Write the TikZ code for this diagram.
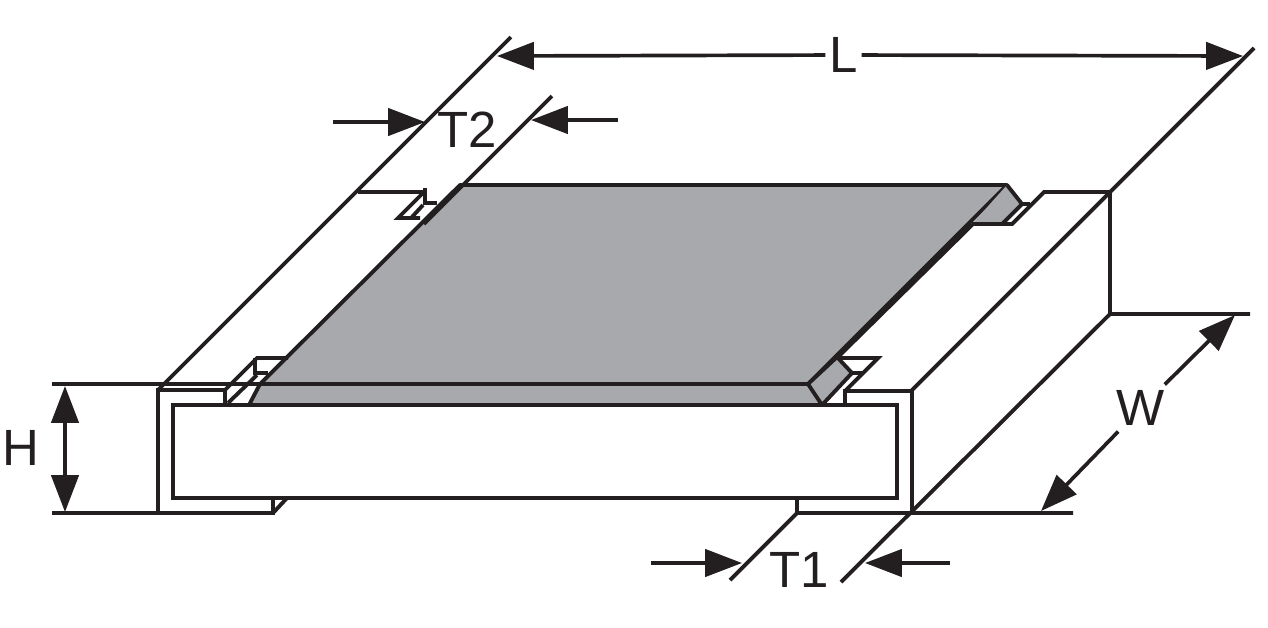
\documentclass[tikz,border=0pt]{standalone}
\usepackage{fontspec}
\setmainfont{Liberation Sans}
\usetikzlibrary{arrows.meta}
\definecolor{inkblack}{HTML}{231F20}
\definecolor{chipgray}{HTML}{A7A9AC}
\begin{document}
\begin{tikzpicture}[
    x=0.02cm, y=-0.02cm,
    outline/.style={draw=inkblack, line width=2.2pt, line join=miter},
    topface/.style={fill=chipgray, draw=inkblack, line width=2.2pt, line join=round},
    dimline/.style={draw=inkblack, line width=2.1pt, -{Triangle[length=21pt,width=15.5pt,sep=0pt]}},
    dimlabel/.style={text=inkblack, font=\fontsize{29}{32}\selectfont, inner sep=2.3pt, outer sep=0pt}
]
\useasboundingbox (0,0) rectangle (1268,627);

\fill[chipgray] (260,384) -- (808,384) -- (822,405) -- (249,405) -- cycle;
\draw[topface] (460,185) -- (1007,185) -- (808,384) -- (260,384) -- cycle;
\draw[topface] (1007,185) -- (1022,204) -- (1002,224) -- (972,224);
\draw[topface] (837,357) -- (852,373) -- (822,405) -- (808,384) -- cycle;
\draw[outline] (260,384) -- (249,405);
\draw[outline, line width=3pt] (972,224) -- (837,357);

\draw[outline] (173,405) rectangle (897,498);

\draw[outline] (225,405) -- (225,390) -- (158,390) -- (158,513) -- (273,513) -- (273,498);
\draw[outline] (273,513) -- (287,498);
\draw[outline] (845,405) -- (845,391) -- (912,391) -- (912,513);
\draw[outline] (797,498) -- (797,513);

\draw[outline] (225,390) -- (257,358) -- (288,358);
\draw[outline] (255,358) -- (255,373) -- (268,373);
\draw[outline] (257,375) -- (228,403);
\draw[outline] (840,358) -- (878,358) -- (845,391);
\draw[outline] (852,373) -- (862,373);

\draw[outline] (358,192) -- (425,192);
\draw[outline] (425,188) -- (425,203) -- (437,203);
\draw[outline] (423,193) -- (398,218) -- (420,218);
\draw[outline] (423,205) -- (412,217);
\draw[outline] (1002,224) -- (1012,224) -- (1044,192) -- (1110,192) -- (1110,314) -- (1250,314);
\draw[outline] (1022,204) -- (1030,204);

\draw[outline] (52,384) -- (262,384);
\draw[outline] (52,513) -- (158,513);
\draw[outline] (730,580) -- (797,513) -- (1073,513);
\draw[outline] (841,582) -- (1110,314);
\draw[outline] (158,390) -- (511,37);
\draw[outline] (912,390) -- (1254,48);
\draw[outline] (552,96) -- (424,224);

\node (lblL) at (843.5,55) [dimlabel] {L};
\node (lblWidth) at (1141,408) [dimlabel, inner sep=3.4pt] {W};
\node (lblHeight) at (21,448) [dimlabel] {H};
\node (lblTtwo) at (467,130) [dimlabel] {T2};
\node (lblTone) at (799,570) [dimlabel] {T1};

\coordinate (Lleft) at (497,56);
\coordinate (Lright) at (1243,56);
\coordinate (Wup) at (1235,315);
\coordinate (Wdown) at (1041,511);
\coordinate (Htop) at (65,386);
\coordinate (Hbot) at (65,512);
\coordinate (TtwoA) at (333,122);
\coordinate (TtwoB) at (425,122);
\coordinate (TtwoC) at (618,120);
\coordinate (TtwoD) at (531,120);
\coordinate (ToneA) at (651,563);
\coordinate (ToneB) at (742,563);
\coordinate (ToneC) at (950,563);
\coordinate (ToneD) at (865,563);

\draw[dimline] (lblL) -- (Lleft);
\draw[dimline] (lblL) -- (Lright);
\draw[dimline] (lblWidth) -- (Wup);
\draw[dimline] (lblWidth) -- (Wdown);
\draw[dimline, {Triangle[length=21pt,width=15.5pt,sep=0pt]}-{Triangle[length=21pt,width=15.5pt,sep=0pt]}] (Htop) -- (Hbot);
\draw[dimline] (TtwoA) -- (TtwoB);
\draw[dimline] (TtwoC) -- (TtwoD);
\draw[dimline] (ToneA) -- (ToneB);
\draw[dimline] (ToneC) -- (ToneD);

\end{tikzpicture}
\end{document}
